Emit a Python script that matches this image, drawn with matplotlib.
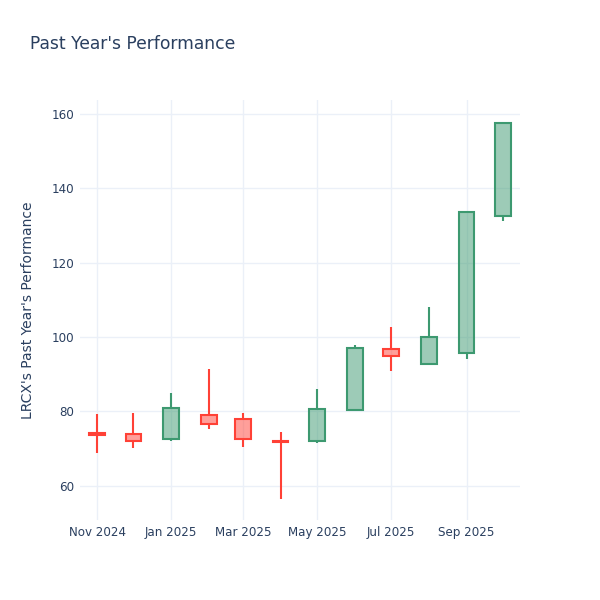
import datetime as dt
import matplotlib
matplotlib.use("Agg")
import matplotlib.pyplot as plt
import matplotlib.dates as mdates

# monthly OHLC values
months = [dt.date(2024, 11, 1), dt.date(2024, 12, 1), dt.date(2025, 1, 1), dt.date(2025, 2, 1),
          dt.date(2025, 3, 1), dt.date(2025, 4, 1), dt.date(2025, 5, 1), dt.date(2025, 6, 1),
          dt.date(2025, 7, 1), dt.date(2025, 8, 1), dt.date(2025, 9, 1), dt.date(2025, 10, 1)]
opens = [74.3, 74.0, 72.7, 79.1, 78.1, 72.0, 72.1, 80.5, 96.7, 92.9, 95.7, 132.5]
highs = [79.4, 79.7, 85.1, 91.5, 79.7, 74.6, 86.1, 97.8, 102.6, 108.0, 134.0, 158.0]
lows = [68.9, 70.2, 72.1, 75.4, 70.5, 56.5, 71.6, 80.5, 91.0, 92.8, 94.2, 131.2]
closes = [73.8, 72.1, 81.0, 76.7, 72.7, 71.8, 80.7, 97.2, 94.8, 100.0, 133.8, 157.6]

tick_dates = [dt.date(2024, 11, 1), dt.date(2025, 1, 1), dt.date(2025, 3, 1),
              dt.date(2025, 5, 1), dt.date(2025, 7, 1), dt.date(2025, 9, 1)]
tick_labels = ["Nov 2024", "Jan 2025", "Mar 2025", "May 2025", "Jul 2025", "Sep 2025"]
y_ticks = [60, 80, 100, 120, 140, 160]

inc_color = "#3D9970"
dec_color = "#FF4136"
font_color = "#2a3f5f"
grid_color = "#EBF0F8"

fig = plt.figure(figsize=(6, 6), dpi=100)
ax = fig.add_axes([80 / 600, 80 / 600, 440 / 600, 420 / 600])

x = mdates.date2num(months)
width = 13
for xi, o, h, l, c in zip(x, opens, highs, lows, closes):
    col = inc_color if c >= o else dec_color
    top = max(o, c)
    bot = min(o, c)
    ax.vlines(xi, top, h, color=col, linewidth=1.5, zorder=3)
    ax.vlines(xi, l, bot, color=col, linewidth=1.5, zorder=3)
    ax.bar(xi, top - bot, bottom=bot, width=width, facecolor=col, alpha=0.5,
           edgecolor="none", zorder=3)
    ax.bar(xi, top - bot, bottom=bot, width=width, facecolor="none",
           edgecolor=col, linewidth=1.5, zorder=4)

ax.set_xlim(mdates.date2num(dt.date(2024, 10, 18)), mdates.date2num(dt.date(2025, 10, 15)))
ax.set_ylim(50.8, 163.8)
ax.set_xticks(mdates.date2num(tick_dates))
ax.set_xticklabels(tick_labels)
ax.set_yticks(y_ticks)
ax.tick_params(axis="both", length=0, labelsize=8.6, labelcolor=font_color)
ax.tick_params(axis="x", pad=4)
ax.tick_params(axis="y", pad=4)
ax.grid(True, color=grid_color, linewidth=1)
ax.set_axisbelow(True)
for s in ax.spines.values():
    s.set_visible(False)

fig.text(30 / 600, 1 - 44 / 600, "Past Year's Performance", fontsize=12.3,
         color=font_color, ha="left", va="center")
fig.text(28 / 600, 1 - 310 / 600, "LRCX's Past Year's Performance", fontsize=10,
         color=font_color, rotation=90, ha="center", va="center")

fig.savefig("out.png", dpi=100)
